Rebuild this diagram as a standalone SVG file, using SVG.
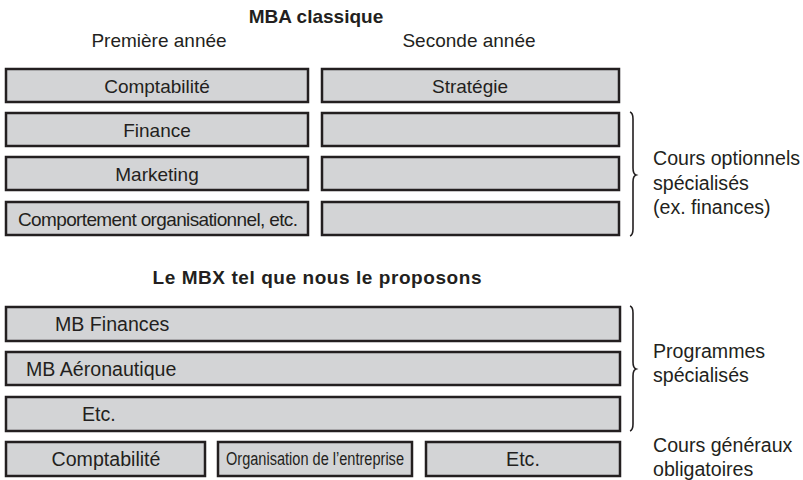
<svg xmlns="http://www.w3.org/2000/svg" width="803" height="480" viewBox="0 0 803 480">
<style>
.bx{fill:#d3d4d6;stroke:#231f20;stroke-width:2.5}
.t{font-family:"Liberation Sans",Arial,sans-serif;font-size:19px;fill:#231f20}
.s{font-size:19.6px}
.c{text-anchor:middle}
.b{font-weight:bold}
.br{fill:none;stroke:#231f20;stroke-width:1.6}
</style>
<rect width="803" height="480" fill="#fff"/>
<text class="t b c" x="316" y="23">MBA classique</text>
<text class="t c" x="159" y="47">Première année</text>
<text class="t c" x="469" y="47">Seconde année</text>

<g id="n-comptabilite1"><rect class="bx" x="6" y="69" width="302" height="33"/><text class="t c" x="157" y="93">Comptabilité</text></g>
<g id="n-strategie"><rect class="bx" x="322" y="69" width="297" height="33"/><text class="t c" x="470" y="93">Stratégie</text></g>
<g id="n-finance"><rect class="bx" x="6" y="113" width="302" height="33"/><text class="t c" x="157" y="137">Finance</text></g>
<g id="n-r2"><rect class="bx" x="322" y="113" width="297" height="33"/></g>
<g id="n-marketing"><rect class="bx" x="6" y="157" width="302" height="33"/><text class="t c" x="157" y="181">Marketing</text></g>
<g id="n-r3"><rect class="bx" x="322" y="157" width="297" height="33"/></g>
<g id="n-comportement"><rect class="bx" x="6" y="202" width="302" height="33"/><text class="t c" x="158" y="226" textLength="280">Comportement organisationnel, etc.</text></g>
<g id="n-r4"><rect class="bx" x="322" y="202" width="297" height="33"/></g>

<g id="n-label-optionnels">
<text class="t s" x="653" y="165">Cours optionnels</text>
<text class="t s" x="653" y="190">spécialisés</text>
<text class="t s" x="653" y="214">(ex. finances)</text>
</g>

<text class="t b c" x="317" y="284" textLength="329">Le MBX tel que nous le proposons</text>

<g id="n-mbfinances"><rect class="bx" x="6" y="307" width="614" height="34"/><text class="t s" x="55" y="331">MB Finances</text></g>
<g id="n-mbaero"><rect class="bx" x="6" y="352" width="614" height="33"/><text class="t s" x="26" y="376">MB Aéronautique</text></g>
<g id="n-etc1"><rect class="bx" x="6" y="397" width="614" height="34"/><text class="t s" x="82" y="421">Etc.</text></g>

<g id="n-comptabilite2"><rect class="bx" x="6" y="442" width="199" height="34"/><text class="t s c" x="106" y="466">Comptabilité</text></g>
<g id="n-organisation"><rect class="bx" x="218" y="442" width="194" height="34"/><text class="t c" x="315" y="465" style="font-size:18px" textLength="178" lengthAdjust="spacingAndGlyphs">Organisation de l’entreprise</text></g>
<g id="n-etc2"><rect class="bx" x="426" y="442" width="194" height="34"/><text class="t s c" x="523" y="466">Etc.</text></g>

<g id="n-label-programmes">
<text class="t s" x="653" y="358">Programmes</text>
<text class="t s" x="653" y="382">spécialisés</text>
</g>
<g id="n-label-generaux">
<text class="t s" x="653" y="452">Cours généraux</text>
<text class="t s" x="653" y="476">obligatoires</text>
</g>

<g id="connectors">
<path class="br" d="M630 112 Q633 113 633 119 L633 168 Q633 174 636 175 Q633 176 633 182 L633 229 Q633 235 630 236"/>
<path class="br" d="M630 306 Q633 307 633 313 L633 362 Q633 368 636 369 Q633 370 633 376 L633 424 Q633 430 630 431"/>
</g>
</svg>
